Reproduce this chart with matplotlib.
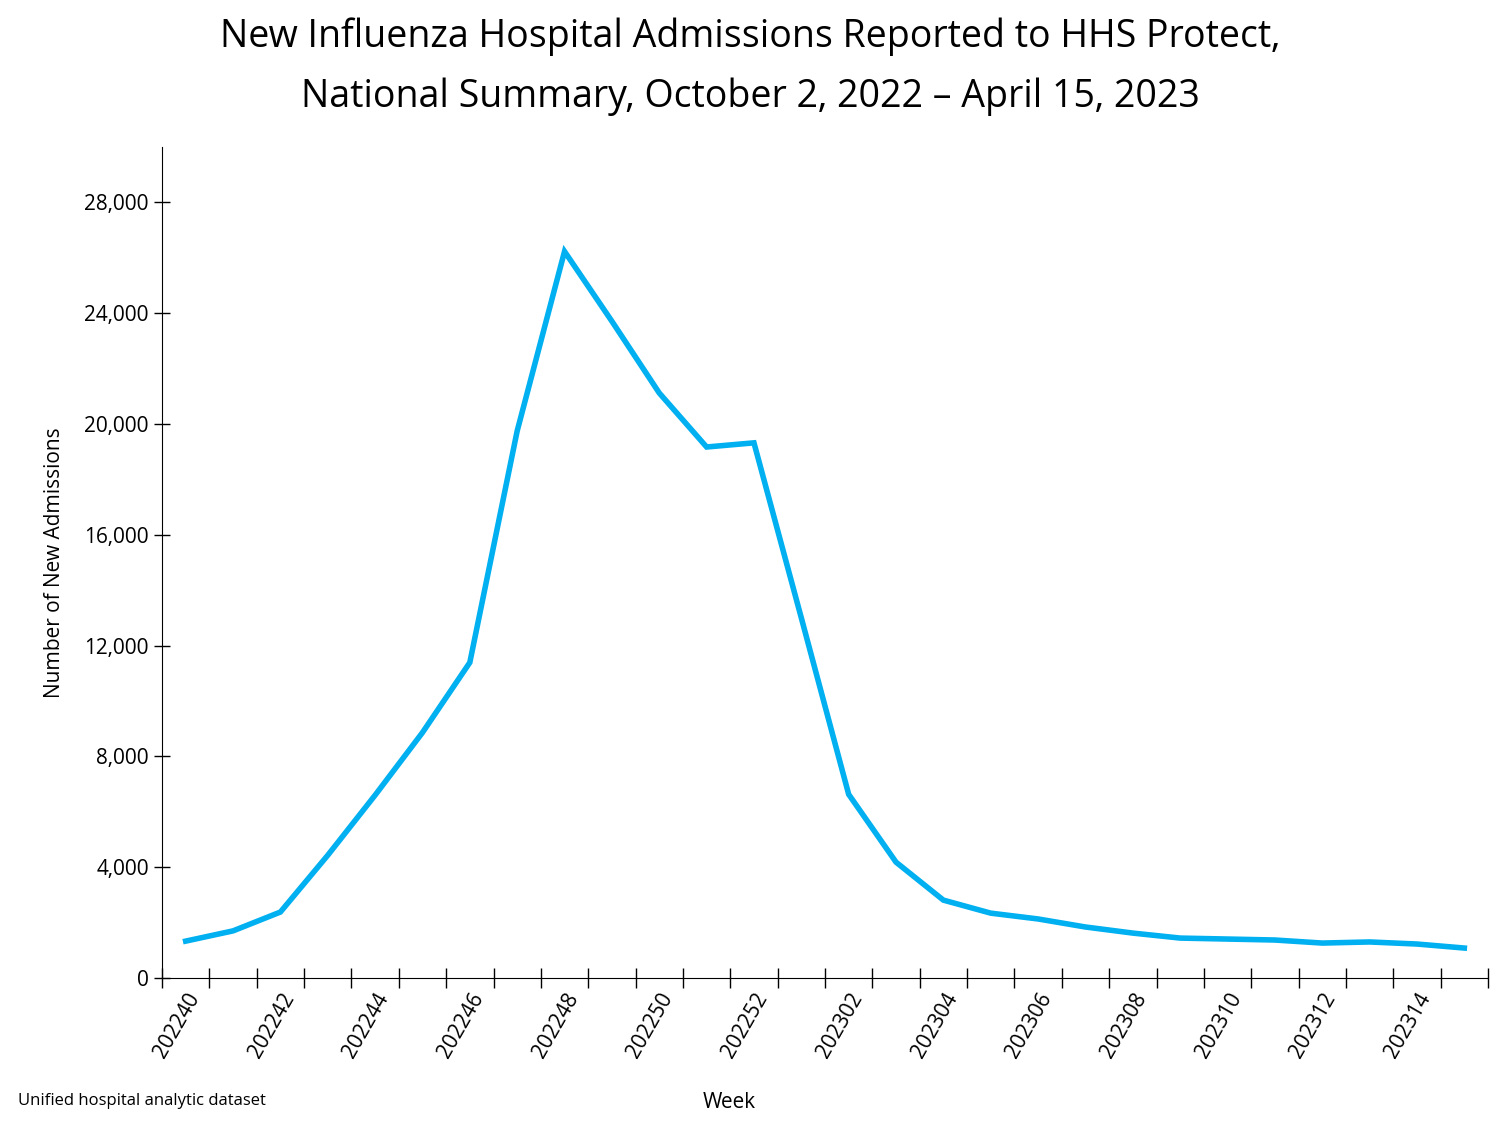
import matplotlib
matplotlib.use("Agg")
import matplotlib.pyplot as plt
from matplotlib.ticker import FuncFormatter, MultipleLocator

weeks = ["202240", "202241", "202242", "202243", "202244", "202245", "202246",
         "202247", "202248", "202249", "202250", "202251", "202252",
         "202301", "202302", "202303", "202304", "202305", "202306", "202307",
         "202308", "202309", "202310", "202311", "202312", "202313", "202314", "202315"]
admissions = [1330, 1700, 2380, 4430, 6600, 8860, 11390,
              19750, 26230, 23710, 21120, 19170, 19320,
              13000, 6630, 4180, 2810, 2340, 2130, 1840,
              1620, 1440, 1405, 1370, 1260, 1300, 1225, 1080]

plt.rcParams["font.family"] = "Open Sans"

fig = plt.figure(figsize=(15, 11.25), dpi=100)
ax = fig.add_axes([0.108, 0.1307, 0.884, 0.7386])

x = list(range(len(weeks)))
ax.plot(x, admissions, color="#00B0F0", linewidth=4, solid_joinstyle="miter")

ax.set_xlim(-0.5, len(weeks) - 0.5)
ax.set_ylim(0, 30000)
ax.yaxis.set_major_locator(MultipleLocator(4000))
ax.yaxis.set_major_formatter(FuncFormatter(lambda v, p: f"{int(v):,}"))
ax.tick_params(axis="y", direction="inout", length=12, labelsize=15, width=1)

ax.set_xticks(x[::2])
ax.set_xticklabels(weeks[::2], rotation=60, ha="right", rotation_mode="anchor", fontsize=15)
ax.set_xticks([i - 0.5 for i in range(len(weeks) + 1)], minor=True)
ax.tick_params(axis="x", which="major", length=0, pad=8)
ax.tick_params(axis="x", which="minor", direction="inout", length=14, width=1)

for s in ["top", "right"]:
    ax.spines[s].set_visible(False)

ax.set_ylabel("Number of New Admissions", fontsize=15, labelpad=14)
fig.text(0.486, 0.015, "Week", fontsize=15, ha="center")
fig.text(0.012, 0.018, "Unified hospital analytic dataset", fontsize=12, ha="left")
fig.suptitle("New Influenza Hospital Admissions Reported to HHS Protect,\nNational Summary, October 2, 2022 \u2013 April 15, 2023",
             fontsize=27, y=0.985, x=0.5, linespacing=1.75)

fig.savefig("out.png", dpi=100)
